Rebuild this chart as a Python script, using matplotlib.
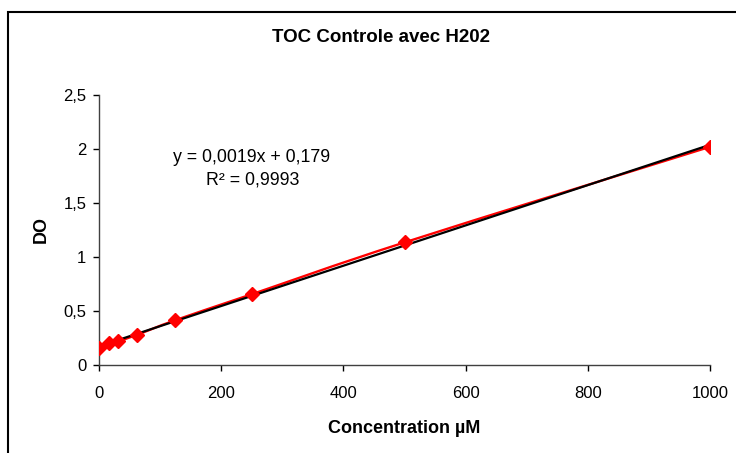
import numpy as np
import matplotlib.pyplot as plt
from matplotlib.path import Path
from matplotlib.patches import PathPatch, Rectangle

plt.rcParams['font.family'] = ['Liberation Sans', 'DejaVu Sans']

# calibration points
conc = [0, 15.625, 31.25, 62.5, 125, 250, 500, 1000]
do_vals = [0.16, 0.20, 0.22, 0.28, 0.415, 0.655, 1.135, 2.02]
x_ticks = [0, 200, 400, 600, 800, 1000]
y_ticks = [0, 0.5, 1, 1.5, 2, 2.5]
y_tick_labels = ['0', '0,5', '1', '1,5', '2', '2,5']
eq_text = 'y = 0,0019x + 0,179'
r2_text = 'R² = 0,9993'

fig = plt.figure(figsize=(7.36, 4.53), dpi=100)
ax = fig.add_axes([0.1345, 0.1943, 0.8302, 0.596])

# chart frame
fig.patches.append(Rectangle((8 / 736, -0.1), 1.2, 1.1 - 12 / 453,
                             transform=fig.transFigure, fill=False,
                             edgecolor='black', linewidth=1.5))

x = np.array(conc)
y = np.array(do_vals)

# smoothed red series (Catmull-Rom as bezier segments)
verts = [(x[0], y[0])]
codes = [Path.MOVETO]
for i in range(len(x) - 1):
    p0 = np.array([x[max(i - 1, 0)], y[max(i - 1, 0)]])
    p1 = np.array([x[i], y[i]])
    p2 = np.array([x[i + 1], y[i + 1]])
    p3 = np.array([x[min(i + 2, len(x) - 1)], y[min(i + 2, len(x) - 1)]])
    c1 = p1 + (p2 - p0) / 6
    c2 = p2 - (p3 - p1) / 6
    verts += [tuple(c1), tuple(c2), tuple(p2)]
    codes += [Path.CURVE4] * 3
ax.add_patch(PathPatch(Path(verts, codes), fill=False, edgecolor='red',
                       linewidth=1.7, zorder=2))

# linear trendline
slope, intercept = np.polyfit(x, y, 1)
xf = np.array([0, 1000])
ax.plot(xf, slope * xf + intercept, color='black', linewidth=1.6, zorder=3)

ax.plot(x, y, linestyle='none', marker='D', markersize=7,
        color='red', zorder=4)

ax.set_xlim(0, 1000)
ax.set_ylim(0, 2.5)
ax.set_xticks(x_ticks)
ax.set_yticks(y_ticks)
ax.set_yticklabels(y_tick_labels)
ax.tick_params(direction='out', length=4, width=1, labelsize=12,
               colors='black')
ax.tick_params(axis='x', pad=11)
ax.tick_params(axis='y', pad=5)
for s in ['top', 'right']:
    ax.spines[s].set_visible(False)
for s in ['left', 'bottom']:
    ax.spines[s].set_color('#404040')
    ax.spines[s].set_linewidth(1)

ax.set_xlabel('Concentration µM', fontsize=13, fontweight='bold', labelpad=14)
ax.set_ylabel('DO', fontsize=13, fontweight='bold', labelpad=10)
fig.text(381 / 736, 1 - 38 / 453, 'TOC Controle avec H202', ha='center',
         va='center', fontsize=13.5, fontweight='bold')

ax.text(249, 1.925, eq_text, ha='center', va='center', fontsize=12.8)
ax.text(251, 1.71, r2_text, ha='center', va='center', fontsize=12.8)

fig.savefig('out.png', dpi=100)
